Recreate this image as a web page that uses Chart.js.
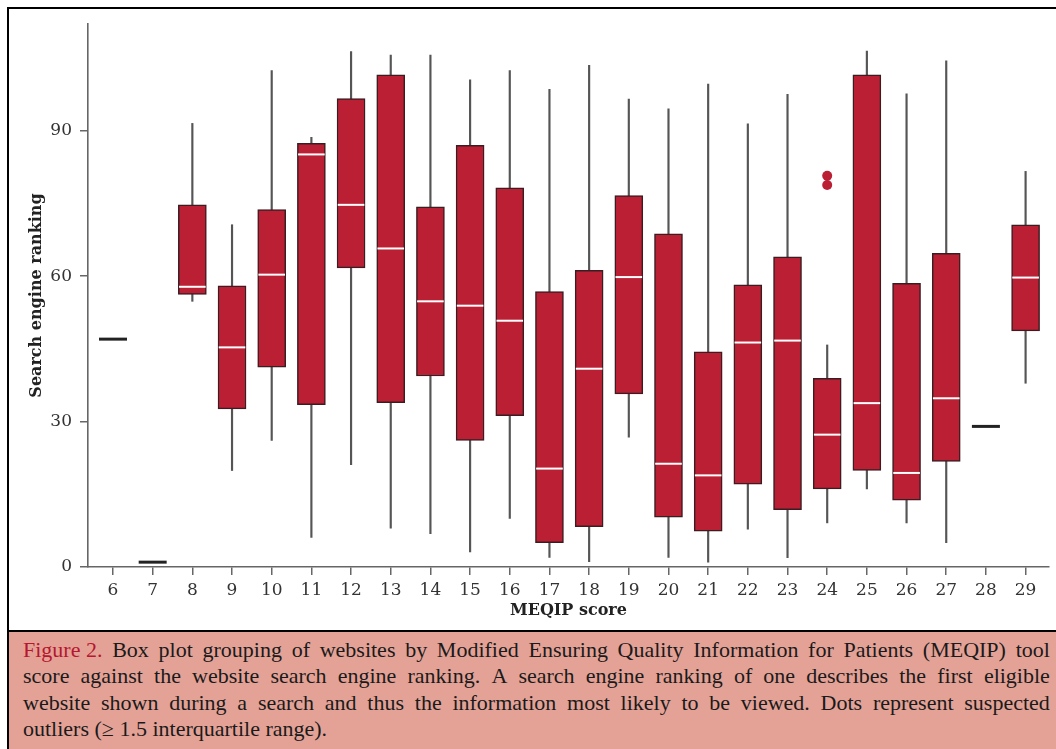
<!DOCTYPE html>
<html>
<head>
<meta charset="utf-8">
<script src="https://cdn.jsdelivr.net/npm/chart.js@4/dist/chart.umd.min.js"></script>
<style>
  html, body { margin: 0; padding: 0; background: #fff; }
  body { width: 1056px; height: 749px; position: relative; overflow: hidden; }
  #frame { position: absolute; left: 7px; top: 7px; width: 1060px; height: 760px;
           border-left: 2px solid #000; border-top: 2px solid #000; }
  #caption { position: absolute; left: 9px; top: 630px; width: 1047px; height: 119px;
             background: #e4a297; border-top: 2px solid #000; box-sizing: border-box;
             padding: 5px 6px 0 14px; font-family: "Liberation Serif", serif;
             font-size: 22px; color: #1a1a1a; }
  #caption .line { display: flex; justify-content: space-between; line-height: 26.4px; white-space: nowrap; }
  #caption .line.last { justify-content: flex-start; }
  #caption .line.last span { margin-right: 5.5px; }
  #caption .fig { color: #b5172f; }
  /* wider than the page: the scatter points force 17px of padding on the right */
  #wrap { position: absolute; left: 0; top: 0; width: 1066px; height: 630px; }
</style>
</head>
<body>
<div id="frame"></div>
<div id="caption"></div>
<div id="wrap"><canvas id="c"></canvas></div>
<script>
// MEQIP score groups and box plot statistics (search engine ranking)
var scores      = [6, 7, 8, 9, 10, 11, 12, 13, 14, 15, 16, 17, 18, 19, 20, 21, 22, 23, 24, 25, 26, 27, 28, 29];
var whiskerLow  = [47, 1, 54.8, 19.9, 26.1, 6.1, 21.1, 8.0, 6.9, 3.1, 10.0, 2.0, 1.1, 26.8, 2.0, 1.0, 7.8, 1.9, 9.1, 16.1, 9.1, 5.0, 29, 37.9];
var q1          = [47, 1, 56.2, 32.6, 41.2, 33.5, 61.7, 33.9, 39.4, 26.1, 31.2, 5.0, 8.3, 35.7, 10.3, 7.4, 17.1, 11.8, 16.1, 19.9, 13.8, 21.8, 29, 48.7];
var median      = [47, 1, 57.8, 45.3, 60.3, 85.1, 74.7, 65.7, 54.8, 53.9, 50.8, 20.3, 40.9, 59.8, 21.3, 18.9, 46.3, 46.7, 27.3, 33.8, 19.4, 34.8, 29, 59.7];
var q3          = [47, 1, 74.7, 58.0, 73.7, 87.4, 96.6, 101.5, 74.3, 87.0, 78.2, 56.8, 61.2, 76.6, 68.7, 44.4, 58.2, 64.0, 38.9, 101.5, 58.5, 64.7, 29, 70.6];
var whiskerHigh = [47, 1, 91.5, 70.6, 102.4, 88.6, 106.3, 105.6, 105.6, 100.5, 102.4, 98.5, 103.5, 96.5, 94.5, 99.6, 91.4, 97.5, 45.8, 106.4, 97.6, 104.4, 29, 81.6];
var outlierX    = [24, 24];
var outlierY    = [80.7, 78.8];
var yTicks      = [0, 30, 60, 90];

var captionLines = [
  "Figure 2. Box plot grouping of websites by Modified Ensuring Quality Information for Patients (MEQIP) tool",
  "score against the website search engine ranking. A search engine ranking of one describes the first eligible",
  "website shown during a search and thus the information most likely to be viewed. Dots represent suspected",
  "outliers (\u2265 1.5 interquartile range)."
];

var RED = "#bb1f34";
var serif = "'DejaVu Serif', serif";

// caption: each line is a flex row of words, so it justifies like the figure
var cap = document.getElementById("caption");
captionLines.forEach(function(text, li) {
  var row = document.createElement("div");
  row.className = "line" + (li === captionLines.length - 1 ? " last" : "");
  var words = text.split(" ");
  if (li === 0) { words.splice(0, 2, "Figure 2."); }
  words.forEach(function(w, wi) {
    var s = document.createElement("span");
    s.textContent = w;
    if (li === 0 && wi === 0) s.className = "fig";
    row.appendChild(s);
  });
  cap.appendChild(row);
});

function isFlat(i) { return q1[i] === q3[i]; }

var boxes = scores.map(function(s, i) {
  return { x: s, y: isFlat(i) ? null : [q1[i], q3[i]] };
});
var whiskers = scores.map(function(s, i) {
  return { x: s, y: isFlat(i) ? null : [whiskerLow[i], whiskerHigh[i]] };
});
var medians = scores.map(function(s, i) { return { x: s, y: median[i] }; });
var outliers = outlierX.map(function(x, i) { return { x: x, y: outlierY[i] }; });

new Chart(document.getElementById("c"), {
  type: "bar",
  data: {
    datasets: [
      {
        data: whiskers, order: 3, grouped: false,
        backgroundColor: "#555", borderWidth: 0, barThickness: 1.5
      },
      {
        data: boxes, order: 2, grouped: false,
        backgroundColor: RED, borderColor: "#3a1c21", borderWidth: 1.5,
        borderSkipped: false, barThickness: 28
      },
      {
        type: "scatter", data: medians, order: 1,
        pointStyle: "line",
        pointRadius: scores.map(function(s, i) { return isFlat(i) ? 14 : 13.3; }),
        pointBorderColor: scores.map(function(s, i) { return isFlat(i) ? "#222" : "#fff"; }),
        pointBorderWidth: scores.map(function(s, i) { return isFlat(i) ? 3 : 2; }),
        pointHoverRadius: 0
      },
      {
        type: "scatter", data: outliers, order: 1,
        pointStyle: "circle", pointRadius: 5,
        pointBackgroundColor: RED, pointBorderWidth: 0
      }
    ]
  },
  options: {
    responsive: true,
    maintainAspectRatio: false,
    animation: false,
    events: [],
    layout: { padding: { top: 24, right: 0, left: 0, bottom: 0 } },
    plugins: { legend: { display: false }, tooltip: { enabled: false } },
    scales: {
      x: {
        type: "linear", min: 5.37, max: 29.59, offset: false,
        afterBuildTicks: function(axis) { axis.ticks = scores.map(function(v) { return { value: v }; }); },
        afterFit: function(axis) { axis.height = 63; axis.paddingLeft = 0; axis.paddingRight = 0; },
        grid: { drawOnChartArea: false, offset: false, color: "#666", lineWidth: 1.5, tickLength: 8 },
        border: { color: "#666", width: 1.6 },
        ticks: { color: "#333", font: { family: serif, size: 17 }, padding: 5, autoSkip: false, maxRotation: 0 },
        title: { display: true, text: "MEQIP score", color: "#222",
                 font: { family: serif, size: 16, weight: "bold" }, padding: { top: 0, bottom: 10 } }
      },
      y: {
        min: 0, max: 112,
        afterBuildTicks: function(axis) { axis.ticks = yTicks.map(function(v) { return { value: v }; }); },
        afterFit: function(axis) { axis.width = 88; },
        grid: { drawOnChartArea: false, color: "#666", lineWidth: 1.5, tickLength: 8 },
        border: { color: "#666", width: 1.6 },
        ticks: { color: "#333", font: { family: serif, size: 17 }, padding: 8 },
        title: { display: true, text: "Search engine ranking", color: "#222",
                 font: { family: serif, size: 16, weight: "bold" }, padding: { top: 27, bottom: 0 } }
      }
    }
  }
});
</script>
</body>
</html>
